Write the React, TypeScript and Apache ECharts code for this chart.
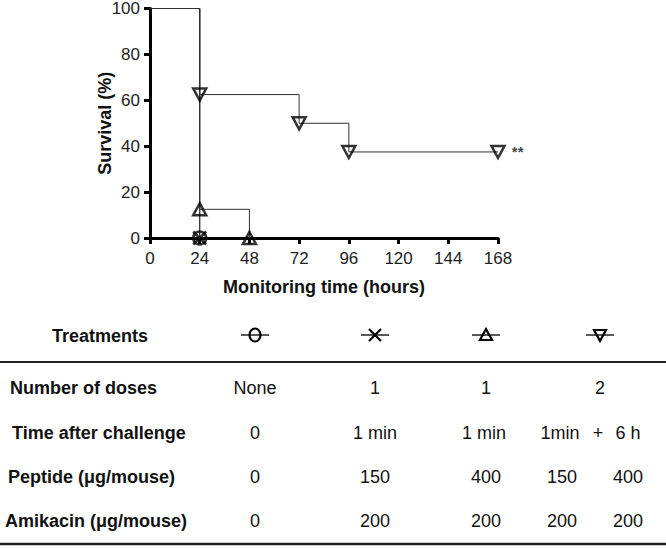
import React, { useEffect, useRef } from "react";
import * as echarts from "echarts";

// ---- Survival data (hours, % survival) ----
const downTimes = [0, 24, 72, 96, 168];
const downSurv = [100, 62.5, 50, 37.5, 37.5];
const downMarkTimes = [24, 72, 96, 168];
const downMarkSurv = [62.5, 50, 37.5, 37.5];

const upTimes = [0, 24, 48];
const upSurv = [100, 12.5, 0];
const upMarkTimes = [24, 48];
const upMarkSurv = [12.5, 0];

const circleTimes = [0, 24];
const circleSurv = [100, 0];
const crossTimes = [0, 24];
const crossSurv = [100, 0];

const xTicks = [0, 24, 48, 72, 96, 120, 144, 168];
const yTicks = [0, 20, 40, 60, 80, 100];

// ---- Table data ----
const rowLabels = [
  "Number of doses",
  "Time after challenge",
  "Peptide (\u03bcg/mouse)",
  "Amikacin (\u03bcg/mouse)",
];
const dosesRow = ["None", "1", "1", "2"];
const timeRow = ["0", "1 min", "1 min", "1min", "+", "6 h"];
const peptideRow = ["0", "150", "400", "150", "400"];
const amikacinRow = ["0", "200", "200", "200", "200"];

const FONT = '"Liberation Sans", Arial, Helvetica, sans-serif';

export default function App() {
  const ref = useRef<HTMLDivElement>(null);
  useEffect(() => {
    if (!ref.current) return;
    const chart = echarts.init(ref.current, null, { renderer: "svg" });

    const zip = (a: number[], b: number[]) => a.map((v, i) => [v, b[i]]);
    const lineStyle = { color: "#333", width: 1 };
    const mkLine = (t: number[], s: number[]) => ({
      type: "line",
      data: zip(t, s),
      step: "end",
      showSymbol: false,
      symbol: "none",
      lineStyle,
      z: 2,
    });
    const markerStyle = {
      color: "rgba(255,255,255,0)",
      borderColor: "#000",
      borderWidth: 2.5,
    };

    // layout for table
    const colX = [255, 375, 486, 600];
    const timeX = [255, 375, 484, 560, 598, 628];
    const subX = [255, 375, 486, 562, 628];
    const rowY = [388, 433, 477, 521];
    const labelX = [10, 12, 8, 5];
    const symY = 335;

    const labelFont = `bold 18px ${FONT}`;
    const valFont = `18px ${FONT}`;
    const txt = (text: string, x: number, y: number, font: string, align = "center") => ({
      type: "text",
      x,
      y,
      silent: true,
      style: { text, font, fill: "#111", align, verticalAlign: "middle" },
    });

    const graphics: any[] = [];
    graphics.push(txt("Treatments", 52, symY + 1, labelFont, "left"));
    rowLabels.forEach((l, i) => graphics.push(txt(l, labelX[i], rowY[i], labelFont, "left")));
    dosesRow.forEach((v, i) => graphics.push(txt(v, colX[i], rowY[0], valFont)));
    timeRow.forEach((v, i) => graphics.push(txt(v, timeX[i], rowY[1], valFont)));
    peptideRow.forEach((v, i) => graphics.push(txt(v, subX[i], rowY[2], valFont)));
    amikacinRow.forEach((v, i) => graphics.push(txt(v, subX[i], rowY[3], valFont)));

    // rules
    graphics.push({
      type: "line",
      shape: { x1: 0, y1: 362, x2: 666, y2: 362 },
      style: { stroke: "#222", lineWidth: 2 },
    });
    graphics.push({
      type: "line",
      shape: { x1: 0, y1: 544, x2: 666, y2: 544 },
      style: { stroke: "#222", lineWidth: 2.5 },
    });

    // legend symbols
    const symStroke = { stroke: "#000", lineWidth: 2.2, fill: "none" };
    colX.forEach((cx) => {
      graphics.push({
        type: "line",
        shape: { x1: cx - 14, y1: symY, x2: cx + 14, y2: symY },
        style: { stroke: "#000", lineWidth: 1.3 },
      });
    });
    graphics.push({ type: "ellipse", shape: { cx: colX[0], cy: symY, rx: 5.5, ry: 6.5 }, style: symStroke });
    graphics.push({
      type: "line",
      shape: { x1: colX[1] - 6, y1: symY - 6, x2: colX[1] + 6, y2: symY + 6 },
      style: symStroke,
    });
    graphics.push({
      type: "line",
      shape: { x1: colX[1] - 6, y1: symY + 6, x2: colX[1] + 6, y2: symY - 6 },
      style: symStroke,
    });
    graphics.push({
      type: "polygon",
      shape: { points: [[colX[2] - 6, symY + 5], [colX[2] + 6, symY + 5], [colX[2], symY - 6]] },
      style: symStroke,
    });
    graphics.push({
      type: "polygon",
      shape: { points: [[colX[3] - 6, symY - 5], [colX[3] + 6, symY - 5], [colX[3], symY + 6]] },
      style: symStroke,
    });

    chart.setOption({
      animation: false,
      backgroundColor: "#fff",
      grid: { left: 150, right: 168, top: 6, bottom: 311, containLabel: false },
      xAxis: {
        type: "value",
        min: 0,
        max: 168,
        interval: 24,
        name: "Monitoring time (hours)",
        nameLocation: "middle",
        nameGap: 40,
        nameMoveOverlap: false,
        nameTextStyle: { fontFamily: FONT, fontWeight: "bold", fontSize: 18, color: "#111" },
        axisLine: { lineStyle: { color: "#000", width: 3 } },
        axisTick: { length: 6, lineStyle: { color: "#000", width: 3 } },
        axisLabel: {
          fontFamily: FONT,
          fontSize: 17,
          color: "#222",
          margin: 12,
          formatter: (v: number) => (xTicks.includes(v) ? String(v) : ""),
        },
        splitLine: { show: false },
      },
      yAxis: {
        type: "value",
        min: 0,
        max: 100,
        interval: 20,
        name: "Survival (%)",
        nameLocation: "middle",
        nameGap: 36,
        nameMoveOverlap: false,
        nameTextStyle: { fontFamily: FONT, fontWeight: "bold", fontSize: 18, color: "#111" },
        axisLine: { show: true, lineStyle: { color: "#000", width: 3 } },
        axisTick: { show: true, length: 6, lineStyle: { color: "#000", width: 3 } },
        axisLabel: {
          fontFamily: FONT,
          fontSize: 17,
          color: "#222",
          margin: 10,
          formatter: (v: number) => (yTicks.includes(v) ? String(v) : ""),
        },
        splitLine: { show: false },
      },
      graphic: graphics,
      series: [
        mkLine(downTimes, downSurv),
        mkLine(upTimes, upSurv),
        mkLine(circleTimes, circleSurv),
        mkLine(crossTimes, crossSurv),
        {
          type: "scatter",
          data: zip(downMarkTimes, downMarkSurv).map((p, i, arr) =>
            i === arr.length - 1
              ? {
                  value: p,
                  label: {
                    show: true,
                    position: "right",
                    distance: 6,
                    formatter: "**",
                    fontFamily: FONT,
                    fontWeight: "bold",
                    fontSize: 15,
                    color: "#111",
                  },
                }
              : p
          ),
          symbol: "triangle",
          symbolRotate: 180,
          symbolSize: [13, 12],
          itemStyle: markerStyle,
          z: 3,
        },
        {
          type: "scatter",
          data: zip(upMarkTimes, upMarkSurv),
          symbol: "triangle",
          symbolSize: [13, 12],
          itemStyle: markerStyle,
          z: 3,
        },
        {
          type: "scatter",
          data: [[circleTimes[1], circleSurv[1]]],
          symbol: "circle",
          symbolSize: 13,
          itemStyle: markerStyle,
          z: 3,
        },
        {
          type: "scatter",
          data: [[crossTimes[1], crossSurv[1]]],
          symbol: "path://M0,0L10,10M10,0L0,10",
          symbolSize: 13,
          itemStyle: markerStyle,
          z: 3,
        },
      ],
    });
    return () => chart.dispose();
  }, []);
  return (
    <div
      ref={ref}
      style={{ position: "absolute", left: 0, top: 0, width: 666, height: 549, background: "#fff" }}
    />
  );
}
